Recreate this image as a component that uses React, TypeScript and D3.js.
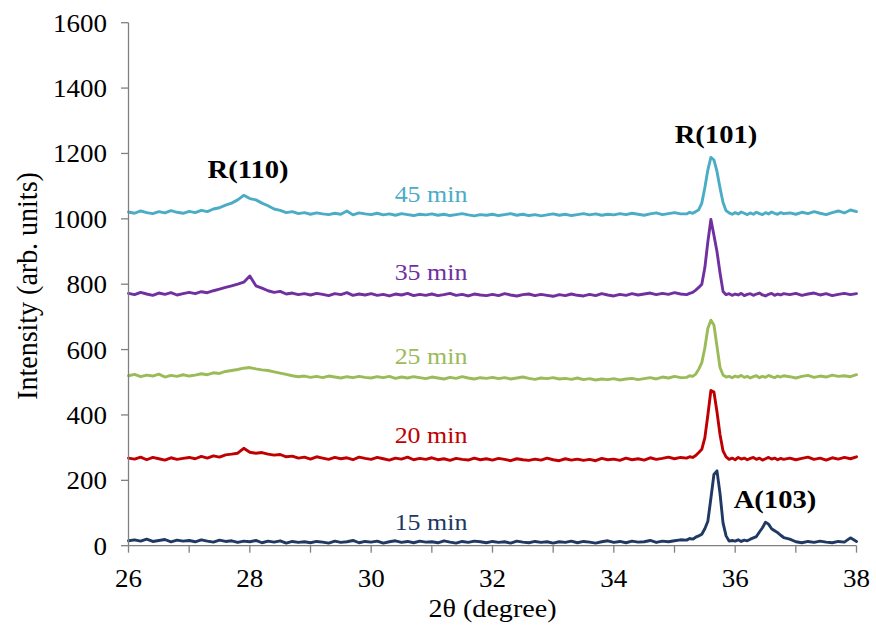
import React from "react";
import * as d3 from "d3";

// 2θ sampling grid: coarse 26.0–35.1 (0.1°), fine 35.20–36.80 (0.05°), coarse 36.9–38.0 (0.1°)
const thetaGrid: number[] = [
  ...d3.range(260, 352).map((i) => i / 10),
  ...d3.range(3520, 3681, 5).map((i) => i / 100),
  ...d3.range(369, 381).map((i) => i / 10),
];

const xTicks = [26, 28, 30, 32, 34, 36, 38];
const xMinorTicks = [26, 27, 28, 29, 30, 31, 32, 33, 34, 35, 36, 37, 38];
const yTicks = [0, 200, 400, 600, 800, 1000, 1200, 1400, 1600];

const min15 = [
  15, 18, 14, 20, 13, 16, 19, 12, 17, 14,
  16, 12, 18, 14, 11, 17, 13, 15, 10, 14,
  12, 16, 9, 14, 11, 15, 8, 13, 10, 12,
  9, 13, 11, 8, 14, 10, 12, 16, 9, 13,
  11, 14, 8, 12, 15, 10, 13, 9, 14, 11,
  12, 9, 15, 11, 8, 13, 10, 14, 12, 9,
  13, 10, 12, 8, 14, 11, 9, 13, 10, 12,
  8, 12, 10, 14, 9, 13, 11, 8, 12, 15,
  10, 13, 9, 14, 11, 12, 16, 10, 14, 12,
  15, 18,
  17, 22, 20, 26, 30, 35, 52, 75, 145, 218, 229, 160, 70, 30, 14,
  16, 14, 18, 13, 17, 15, 20, 24, 28, 42, 55, 72, 66, 52, 46, 40, 32, 25,
  20, 12, 9, 13, 10, 14, 11, 9, 13, 11, 24, 13,
];

const min20 = [
  268, 265, 271, 263, 270, 266, 262, 269, 264, 267,
  270, 266, 273, 268, 275, 271, 278, 280, 283, 298,
  286, 283, 285, 280, 277, 279, 272, 274, 268, 271,
  265, 272, 268, 264, 270, 266, 269, 263, 271, 267,
  264, 270, 266, 262, 268, 265, 271, 263, 267, 264,
  269, 263, 266, 261, 267, 264, 262, 268, 263, 266,
  262, 267, 264, 260, 266, 263, 261, 265, 262, 268,
  263, 260, 266, 262, 265, 261, 264, 260, 267, 263,
  265, 261, 268, 263, 266, 262, 269, 264, 267, 271,
  266, 270,
  268, 272, 270, 276, 285, 295, 330, 400, 475, 470, 410, 340, 290, 272, 264,
  268, 263, 270, 265, 268, 263, 267, 270, 264, 268, 262, 266, 270, 265, 268, 263, 267, 264,
  268, 263, 267, 271, 264, 268, 262, 269, 265, 270, 266, 272,
];

const min25 = [
  520, 524, 517, 522, 519, 525, 516, 521, 518, 523,
  519, 522, 526, 523, 529, 527, 533, 536, 539, 543,
  545, 541, 538, 536, 532, 528, 524, 520, 517, 519,
  515, 518, 514, 519, 516, 513, 517, 514, 518, 515,
  513, 517, 514, 518, 512, 516, 513, 517, 514, 511,
  516, 513, 510, 515, 512, 517, 513, 510, 514, 512,
  515, 511, 514, 510, 513, 516, 512, 509, 513, 511,
  514, 510, 512, 509, 513, 508, 511, 507, 510, 508,
  511, 507, 510, 512, 508, 511, 514, 510, 516, 513,
  518, 514,
  515, 520, 518, 525, 540, 560, 605, 665, 690, 675, 610, 545, 522, 516, 518,
  514, 519, 516, 521, 515, 518, 513, 517, 520, 514, 518, 515, 521, 517, 514, 519, 516, 520,
  517, 513, 518, 521, 515, 519, 516, 522, 518, 520, 517, 523,
];

const min35 = [
  772, 768, 775, 770, 766, 773, 769, 774, 767, 771,
  775, 771, 777, 774, 780, 785, 790, 795, 800, 806,
  825, 795, 788, 780, 775, 778, 770, 773, 768, 771,
  767, 772, 769, 765, 771, 768, 774, 766, 770, 767,
  771, 766, 769, 764, 770, 767, 772, 765, 769, 766,
  770, 765, 768, 772, 766, 769, 764, 770, 767, 765,
  769, 765, 771, 767, 764, 768, 770, 765, 769, 766,
  763, 768, 765, 770, 766, 764, 769, 765, 771, 767,
  764, 769, 766, 771, 767, 770, 773, 768, 772, 769,
  774, 770,
  768, 772, 775, 782, 790, 800, 850, 930, 998, 950, 900, 835, 778, 768, 771,
  766, 770, 767, 772, 765, 769, 771, 766, 770, 773, 767, 764, 769, 772, 766, 770, 767, 771,
  768, 772, 766, 770, 773, 767, 771, 765, 769, 772, 768, 771,
];

const min45 = [
  1021, 1017, 1024, 1019, 1016, 1022, 1018, 1025, 1020, 1017,
  1023, 1019, 1026, 1022, 1030, 1034, 1042, 1048, 1058, 1072,
  1062, 1058, 1048, 1040, 1030, 1026, 1019, 1022, 1016, 1019,
  1014, 1018, 1015, 1013, 1017, 1014, 1024, 1012, 1018, 1015,
  1013, 1017, 1012, 1015, 1011, 1016, 1013, 1010, 1014, 1012,
  1015, 1011, 1014, 1010, 1013, 1016, 1012, 1009, 1013, 1011,
  1014, 1010, 1013, 1016, 1011, 1014, 1010, 1013, 1009, 1012,
  1015, 1011, 1014, 1010, 1013, 1016, 1012, 1015, 1011, 1014,
  1012, 1016, 1013, 1017, 1014, 1011, 1015, 1018, 1013, 1016,
  1019, 1015,
  1015, 1020, 1017, 1022, 1028, 1048, 1095, 1150, 1188, 1180, 1145, 1095, 1050, 1025, 1018,
  1014, 1019, 1015, 1021, 1017, 1013, 1018, 1014, 1020, 1016, 1013, 1019, 1015, 1021, 1017, 1014, 1019, 1016,
  1018, 1014, 1020, 1016, 1022, 1017, 1013, 1019, 1024, 1018, 1027, 1022,
];

const seriesNames = ["15 min", "20 min", "25 min", "35 min", "45 min"];
const seriesValues = [min15, min20, min25, min35, min45];
const seriesColors = ["#203864", "#c00000", "#9bbb59", "#7030a0", "#4bacc6"];
const seriesLabelY = [530, 443, 364, 280, 202];

const peakLabels = ["R(110)", "R(101)", "A(103)"];
const peakLabelX = [248, 716, 775];
const peakLabelY = [178, 143, 508];

const W = 876;
const H = 635;
const FONT = "'Liberation Serif', 'Times New Roman', serif";
const SX = 1.08;

function Txt(props: {
  x: number;
  y: number;
  size: number;
  anchor?: string;
  bold?: boolean;
  fill?: string;
  rotate?: number;
  sx?: number;
  children: React.ReactNode;
}) {
  const { x, y, size, anchor = "middle", bold, fill = "#000", rotate, sx = SX } = props;
  const t = `translate(${x},${y}) scale(${sx},1)` + (rotate ? ` rotate(${rotate})` : "");
  return (
    <text
      transform={t}
      fontFamily={FONT}
      fontSize={size}
      fontWeight={bold ? "bold" : "normal"}
      textAnchor={anchor}
      fill={fill}
    >
      {props.children}
    </text>
  );
}

export default function App() {
  const x = d3.scaleLinear().domain([26, 38]).range([128.5, 856.5]);
  const y = d3.scaleLinear().domain([0, 1600]).range([545.7, 22.7]);
  const line = d3
    .line<[number, number]>()
    .x((d) => x(d[0]))
    .y((d) => y(d[1]));

  const axisColor = "#808080";

  return (
    <svg
      width={W}
      height={H}
      style={{ position: "absolute", left: 0, top: 0, background: "#fff" }}
    >
      <rect x={0} y={0} width={W} height={H} fill="#fff" />
      {/* series */}
      {seriesValues.map((vals, si) => (
        <path
          key={si}
          d={line(vals.map((v, i) => [thetaGrid[i], v] as [number, number])) || ""}
          fill="none"
          stroke={seriesColors[si]}
          strokeWidth={2.9}
          strokeLinejoin="round"
          strokeLinecap="round"
        />
      ))}
      {/* y axis */}
      <line x1={x(26)} x2={x(26)} y1={y(0)} y2={y(1600)} stroke={axisColor} strokeWidth={1.3} />
      {yTicks.map((t) => (
        <g key={"y" + t}>
          <line x1={x(26) - 7.5} x2={x(26)} y1={y(t)} y2={y(t)} stroke={axisColor} strokeWidth={1.3} />
          <Txt x={107} y={y(t) + 9} size={25} anchor="end">
            {t}
          </Txt>
        </g>
      ))}
      {/* x axis */}
      <line x1={x(26)} x2={x(38)} y1={y(0)} y2={y(0)} stroke={axisColor} strokeWidth={1.3} />
      {xMinorTicks.map((t) => (
        <line key={"xm" + t} x1={x(t)} x2={x(t)} y1={y(0)} y2={y(0) + 7} stroke={axisColor} strokeWidth={1.3} />
      ))}
      {xTicks.map((t) => (
        <Txt key={"x" + t} x={x(t)} y={587} size={25}>
          {t}
        </Txt>
      ))}
      {/* axis titles */}
      <Txt x={(x(26) + x(38)) / 2} y={617} size={26}>
        2θ (degree)
      </Txt>
      <Txt x={37} y={286} size={28} rotate={-90}>
        Intensity (arb. units)
      </Txt>
      {/* series labels */}
      {seriesNames.map((n, i) => (
        <Txt key={n} x={431} y={seriesLabelY[i]} size={24} fill={seriesColors[i]}>
          {n}
        </Txt>
      ))}
      {/* peak labels */}
      {peakLabels.map((p, i) => (
        <Txt key={p} x={peakLabelX[i]} y={peakLabelY[i]} size={26} bold sx={1.1}>
          {p}
        </Txt>
      ))}
    </svg>
  );
}
